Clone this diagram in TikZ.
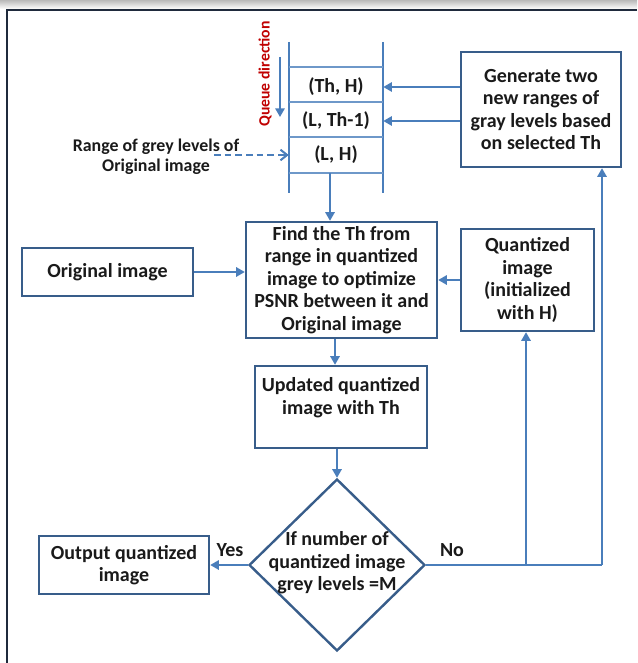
\documentclass[tikz,border=0pt]{standalone}
\usepackage{fontspec}
\setmainfont{Carlito}
\usetikzlibrary{shapes.geometric,arrows.meta}
\definecolor{lineblue}{HTML}{4A7EBB}
\definecolor{boxblue}{HTML}{385D8A}
\definecolor{qred}{HTML}{C00000}
\definecolor{frameline}{HTML}{1F2A3C}
\definecolor{txtcol}{HTML}{1A1A1A}
\begin{document}
\begin{tikzpicture}[x=0.75pt,y=-0.75pt,
  mainfont/.style={font=\bfseries\fontsize{15}{16.9}\selectfont,text=txtcol},
  smallfont/.style={font=\bfseries\fontsize{13.4}{15}\selectfont,text=txtcol},
  box/.style={draw=boxblue,line width=1.8pt,align=center,mainfont,inner sep=0pt},
  cell/.style={inner sep=0pt,mainfont,minimum width={94*0.75pt},minimum height={35*0.75pt}},
  arr/.style={draw=lineblue,line width=1.5pt,-{Triangle[length=6.5pt,width=7pt]}},
  plain/.style={draw=lineblue,line width=1.5pt},
  dasharr/.style={draw=lineblue,line width=1.5pt,dashed,dash pattern=on 5pt off 3pt,-{Straight Barb[length=5pt,width=8pt,line width=1.5pt]}},
  lbl/.style={mainfont,inner sep=0pt}
]
\useasboundingbox (0,0) rectangle (637,663);
% frame with shadow
\shade[top color=gray!55,bottom color=white] (0,0) rectangle (637,9);
\draw[frameline,line width=2pt] (7,663) -- (7,10) -- (637,10);

% queue
\draw[plain] (289,42) -- (289,193);
\draw[plain] (383,42) -- (383,193);
\foreach \yy in {67,102,137,173} \draw[lineblue!80,line width=0.8pt] (289,\yy) -- (383,\yy);
\node[cell] (q1) at (336,87) {(Th, H)};
\node[cell] (q2) at (336,121) {(L, Th-1)};
\node[cell] (q3) at (336,155) {(L, H)};
\node[font=\bfseries\fontsize{11.8}{14}\selectfont,text=qred,rotate=90,inner sep=0pt] (qdir) at (265,74) {Queue direction};
\coordinate (qa1) at (280,57);
\coordinate (qa2) at (280,117);
\draw[arr] (qa1) -- (qa2);

\node[smallfont,align=center,inner sep=0pt] (range) at (156,157) {Range of grey levels of\\Original image};
\coordinate (dstart) at (214,155);
\draw[dasharr] (dstart) -- (q3.west);

% boxes
\node[box,minimum width={160*0.75pt},minimum height={115*0.75pt}] (gen) at (541,109.5) {Generate two\\new ranges of\\gray levels based\\on selected Th};
\node[box,minimum width={191*0.75pt},minimum height={116*0.75pt}] (find) at (341.5,280) {Find the Th from\\range in quantized\\image to optimize\\PSNR between it and\\Original image};
\node[box,minimum width={171*0.75pt},minimum height={48*0.75pt}] (orig) at (107.5,272) {Original image};
\node[box,minimum width={133*0.75pt},minimum height={102*0.75pt}] (quant) at (527.5,280) {Quantized\\image\\(initialized\\with H)};
\node[box,minimum width={172*0.75pt},minimum height={82*0.75pt}] (upd) at (341,407) {Updated quantized\\image with Th\\\mbox{}};
\node[box,minimum width={170*0.75pt},minimum height={58*0.75pt}] (out) at (124,565) {Output quantized\\image};
\node[diamond,draw=boxblue,line width=1.8pt,inner sep=0pt,minimum width={176*0.75pt},minimum height={172*0.75pt}] (dia) at (337,565) {};
\node[lbl,align=center] (diatext) at (337,563) {If number of\\quantized image\\grey levels =M};

% connectors
\draw[arr] (gen.west |- q1.east) -- (q1.east);
\draw[arr] (gen.west |- q2.east) -- (q2.east);
\coordinate (qbot) at (330,173);
\draw[arr] (qbot) -- (qbot |- find.north);
\draw[arr] (orig.east) -- (orig.east -| find.west);
\draw[arr] (quant.west) -- (quant.west -| find.east);
\draw[arr] (find.south -| 335,0) -- (upd.north -| 335,0);
\draw[arr] (upd.south -| dia.north) -- (dia.north);
\draw[arr] (dia.west) -- (out.east);
\node[lbl] (yes) at (230,550) {Yes};
\node[lbl] (no) at (452,550) {No};
\coordinate (corner) at (602,565);
\coordinate (branch) at (526,565);
\draw[plain] (dia.east) -- (corner);
\draw[arr] (corner) -- (corner |- gen.south);
\draw[arr] (branch) -- (branch |- quant.south);
\end{tikzpicture}
\end{document}
